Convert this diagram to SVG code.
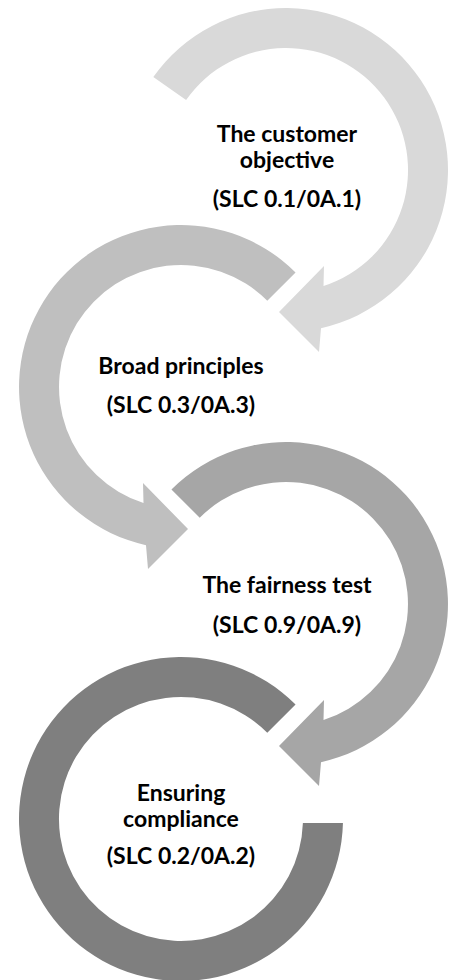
<svg xmlns="http://www.w3.org/2000/svg" width="455" height="980" viewBox="0 0 455 980">
<style>
text{font-family:Lato,"Open Sans","Liberation Sans",sans-serif;font-weight:bold;font-size:23px;fill:#000;text-anchor:middle}
.r1{fill:#d9d9d9}.r2{fill:#bfbfbf}.r3{fill:#a6a6a6}.r4{fill:#7f7f7f}
</style>
<rect width="455" height="980" fill="#fff"/>
<g id="node-customer-objective">
<path class="r1" d="M153.3,77.1 A162,162 0 1 1 321,328.2 L319,352 L279,312 L324,266 L323.5,286.1 A122,122 0 1 0 186.1,100 Z"/>
<text x="287" y="142">The customer</text>
<text x="287" y="168">objective</text>
<text x="287" y="207">(SLC 0.1/0A.1)</text>
</g>
<g id="node-broad-principles">
<path class="r2" d="M295.55,272.45 A162,162 0 1 0 146,545.2 L148,569 L188,529 L143,483 L143.5,503.1 A122,122 0 1 1 267.27,300.73 Z"/>
<text x="181" y="374">Broad principles</text>
<text x="181" y="413">(SLC 0.3/0A.3)</text>
</g>
<g id="node-fairness-test">
<path class="r3" d="M171.45,489.45 A162,162 0 1 1 321,762.2 L319,786 L279,746 L324,700 L323.5,720.1 A122,122 0 1 0 199.73,517.73 Z"/>
<text x="287" y="593">The fairness test</text>
<text x="287" y="633">(SLC 0.9/0A.9)</text>
</g>
<g id="node-ensuring-compliance">
<path class="r4" d="M295.55,704.45 A162,162 0 1 0 342.95,823 L302.9,823 A122,122 0 1 1 267.27,732.73 Z"/>
<text x="181" y="801">Ensuring</text>
<text x="181" y="827">compliance</text>
<text x="181" y="864">(SLC 0.2/0A.2)</text>
</g>
<g id="connectors"/>
</svg>
